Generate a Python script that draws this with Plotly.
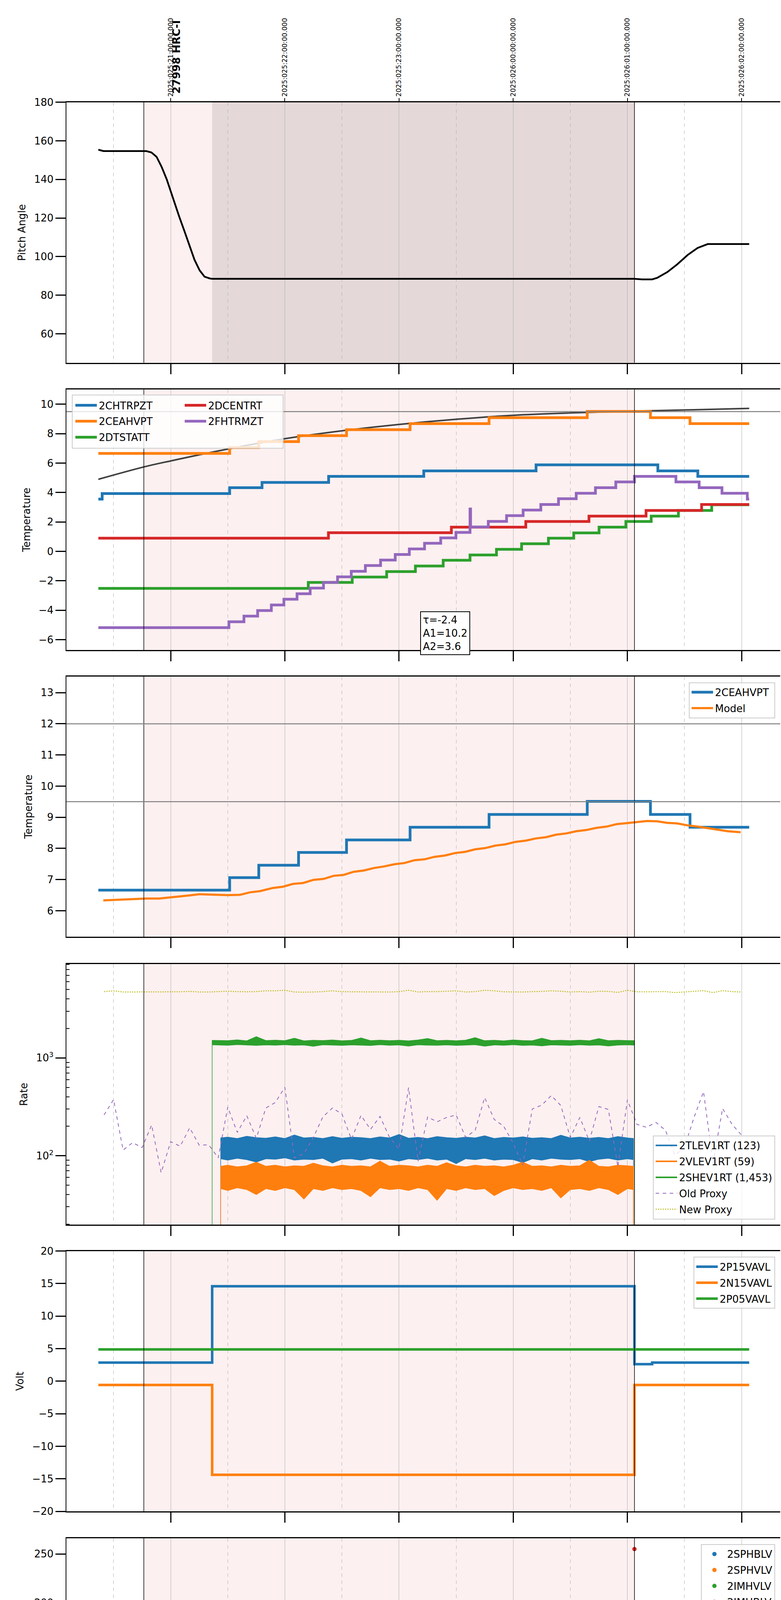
import numpy as np
import pandas as pd
import plotly.graph_objects as go

FONT = "DejaVu Sans"
T0 = pd.Timestamp("2025-01-25 15:00:00")

# all times are minutes after 15:00 local (2025-01-25)
OBS_START = 45.9
SLEW_END = 81.8
OBS_END = 303.7
X_RANGE = [5.2, 380.3]

HOURS = [60, 120, 180, 240, 300, 360]
HOUR_LABELS = ["16h", "17h", "18h", "19h", "20h", "21h"]
HALF_HOURS = [30, 90, 150, 210, 270, 330]
HALF_LABELS = ["30"] * 6
UTC_LABELS = ["2025:025:21:00:00.000", "2025:025:22:00:00.000", "2025:025:23:00:00.000",
              "2025:026:00:00:00.000", "2025:026:01:00:00.000", "2025:026:02:00:00.000"]

# ---------------- panel 1 : pitch ----------------
PITCH = [(22.0, 155.4), (24.7, 154.7), (47.2, 154.7), (49.9, 154.0), (52.6, 151.7), (55.2, 146.6),
         (57.9, 140.1), (60.0, 133.7), (61.9, 128.1), (64.5, 120.7), (67.2, 113.3), (69.8, 105.9),
         (72.5, 98.4), (75.2, 92.9), (77.8, 89.6), (80.5, 88.7), (81.8, 88.5), (303.7, 88.5),
         (307.7, 88.2), (313.0, 88.2), (315.7, 89.0), (321.0, 92.0), (326.3, 96.1), (331.6, 100.8),
         (336.9, 104.5), (342.2, 106.5), (364.0, 106.5)]

# ---------------- panel 2 : temperatures (step data) ----------------
T_END = 364.0
CHTRPZT = [(22, 3.55), (24, 3.93), (91, 4.33), (108, 4.69), (143, 5.10), (193, 5.47), (252, 5.88),
           (316, 5.47), (337, 5.10)]
CEAHVPT = [(22, 6.66), (91, 7.06), (106.3, 7.46), (127.2, 7.87), (152.4, 8.27), (185.8, 8.68),
           (227.3, 9.09), (278.9, 9.51), (312.1, 9.09), (332.9, 8.68)]
DTSTATT = [(22, -2.51), (132.3, -2.11), (155.4, -1.74), (173.5, -1.37), (188.6, -0.99), (203.2, -0.60),
           (217.3, -0.24), (231.2, 0.14), (244.4, 0.52), (258.5, 0.90), (271.8, 1.26), (285.1, 1.65),
           (299.2, 2.03), (312.5, 2.40), (326.8, 2.78), (344.3, 3.17)]
DCENTRT = [(22, 0.90), (142.9, 1.27), (207.5, 1.65), (246.6, 2.03), (279.8, 2.40), (309.8, 2.78),
           (339.0, 3.19)]
FHTRMZT = [(22, -5.18), (90.6, -4.78), (98.5, -4.40), (105.7, -4.02), (112.9, -3.64), (119.5, -3.25),
           (126.4, -2.88), (133.3, -2.49), (140.3, -2.11), (147.7, -1.73), (154.9, -1.35),
           (162.3, -0.96), (170.3, -0.59), (178.0, -0.21), (185.4, 0.17), (193.4, 0.55),
           (201.9, 0.92), (209.9, 1.29), (217.3, 2.88), (217.6, 1.66), (226.9, 2.04), (236.5, 2.43),
           (245.2, 2.81), (254.5, 3.19), (263.8, 3.58), (273.1, 3.95), (283.2, 4.33), (293.9, 4.72),
           (303.7, 5.10), (325.5, 4.72), (337.7, 4.33), (349.7, 3.95), (363.0, 3.55)]
FIT_CURVE = [(22, 4.90), (45.9, 5.74), (60, 6.15), (90.1, 6.96), (120.1, 7.66), (150.2, 8.20),
             (180.2, 8.63), (210.2, 8.98), (240, 9.25), (270, 9.41), (300, 9.52), (330, 9.61),
             (364, 9.72)]
FIT_TEXT = "τ=-2.4<br>A1=10.2<br>A2=3.6"

# ---------------- panel 3 : 2CEAHVPT vs model ----------------
MODEL = [(24.6, 6.33), (36.6, 6.37), (47.2, 6.39), (53.9, 6.39), (60.5, 6.43), (65.9, 6.45),
         (69.9, 6.49), (75.2, 6.53), (81.8, 6.52), (89.8, 6.50), (96.4, 6.51), (101.7, 6.59),
         (107.0, 6.63), (113.7, 6.73), (119.0, 6.77), (124.3, 6.86), (129.6, 6.89), (135.0, 6.99),
         (140.3, 7.02), (145.6, 7.12), (150.9, 7.15), (156.2, 7.25), (161.5, 7.29), (166.8, 7.37),
         (172.1, 7.42), (177.5, 7.49), (182.8, 7.53), (188.1, 7.62), (193.4, 7.65), (198.7, 7.73),
         (204.0, 7.77), (209.4, 7.85), (214.7, 7.89), (220.0, 7.97), (225.3, 8.01), (230.6, 8.09),
         (235.9, 8.13), (241.2, 8.21), (246.6, 8.25), (251.9, 8.32), (257.2, 8.36), (262.5, 8.44),
         (267.8, 8.48), (273.1, 8.55), (278.4, 8.59), (283.8, 8.66), (289.1, 8.70), (294.4, 8.78),
         (299.7, 8.81), (305.0, 8.85), (310.3, 8.88), (315.6, 8.87), (320.9, 8.82), (326.3, 8.80),
         (331.6, 8.74), (336.9, 8.70), (342.2, 8.65), (347.5, 8.61), (352.8, 8.55), (359.5, 8.52)]
LIMITS_P3 = [12.0, 9.5]
LIMIT_P2 = 9.5

# ---------------- panel 4 : rates ----------------
BAND_T = [86.3] + list(range(90, 301, 5)) + [303.2]
GREEN_T = [81.8] + list(range(90, 301, 5)) + [303.7]
TLEV_UP = [152, 155, 150, 158, 153, 151, 156, 150, 163, 152, 154, 150, 157, 151, 155, 153, 150, 156,
           152, 165, 151, 154, 150, 157, 153, 151, 155, 152, 160, 150, 154, 152, 156, 151, 153, 150,
           162, 152, 155, 151, 154, 150, 157, 152, 150]
TLEV_LO = [93, 90, 94, 91, 86, 93, 92, 95, 90, 92, 91, 94, 84, 92, 93, 90, 94, 91, 92, 88, 93, 91, 94,
           90, 92, 83, 93, 91, 94, 90, 92, 91, 85, 93, 90, 94, 92, 91, 93, 87, 92, 94, 90, 93, 91]
VLEV_UP = [78, 80, 77, 79, 86, 78, 80, 77, 79, 78, 84, 79, 77, 80, 78, 79, 77, 88, 78, 80, 79, 77, 80,
           78, 85, 79, 77, 80, 78, 79, 77, 80, 86, 78, 79, 77, 80, 78, 79, 90, 78, 77, 80, 79, 78]
VLEV_LO = [46, 44, 47, 45, 40, 46, 44, 47, 45, 36, 46, 44, 47, 45, 46, 44, 38, 47, 45, 46, 44, 47, 45,
           35, 46, 44, 47, 45, 46, 39, 44, 47, 45, 46, 44, 47, 37, 45, 46, 44, 47, 45, 40, 46, 45]
SHEV_UP = [1510, 1500, 1530, 1495, 1650, 1505, 1520, 1500, 1590, 1495, 1515, 1505, 1525, 1498, 1510,
           1600, 1502, 1520, 1500, 1515, 1495, 1525, 1580, 1500, 1515, 1497, 1520, 1610, 1500, 1515,
           1495, 1525, 1505, 1498, 1590, 1505, 1515, 1500, 1520, 1498, 1575, 1500, 1515, 1505, 1500]
SHEV_LO = [1360, 1345, 1365, 1350, 1340, 1358, 1347, 1363, 1345, 1355, 1315, 1360, 1348, 1342, 1358,
           1350, 1338, 1362, 1345, 1355, 1320, 1360, 1348, 1343, 1358, 1340, 1352, 1362, 1318, 1355,
           1345, 1363, 1342, 1350, 1325, 1358, 1348, 1340, 1360, 1345, 1355, 1322, 1350, 1360, 1348]
RATE_FLOOR = 10
PROXY_T = list(range(25, 361, 5))
OLD_PROXY = [261, 375, 114, 136, 121, 206, 67, 139, 125, 193, 128, 129, 95, 314, 173, 256, 151, 307,
             350, 501, 95, 105, 154, 250, 307, 267, 147, 258, 186, 252, 154, 117, 497, 88, 249, 222,
             246, 261, 154, 182, 393, 235, 200, 134, 80, 300, 329, 412, 326, 154, 246, 141, 318, 297,
             77, 372, 209, 195, 219, 182, 101, 122, 246, 452, 84, 304, 209, 162]
NEW_PROXY = [4760, 4850, 4718, 4718, 4718, 4740, 4740, 4718, 4740, 4784, 4718, 4718, 4760, 4806, 4760,
             4740, 4760, 4850, 4850, 4917, 4718, 4696, 4718, 4760, 4850, 4760, 4740, 4740, 4740, 4740,
             4718, 4760, 4917, 4718, 4760, 4760, 4806, 4850, 4718, 4760, 4917, 4850, 4740, 4718, 4718,
             4760, 4784, 4850, 4806, 4718, 4760, 4696, 4806, 4784, 4674, 4917, 4740, 4740, 4740, 4760,
             4652, 4718, 4784, 4870, 4652, 4870, 4760, 4718]

# ---------------- panel 5 : voltages ----------------
P15VAVL = [(22, 2.85), (81.8, 14.58), (303.7, 2.62), (313.0, 2.85)]
N15VAVL = [(22, -0.58), (81.8, -14.38), (303.7, -0.58)]
P05VAVL = [(22, 4.88)]

# ---------------- panel 6 : HV monitor ----------------
HV_EARLY_T = [81.9, 82.3, 82.7, 83.1, 83.5, 83.9, 84.3, 84.8, 85.3, 85.8]
IMHBLV_EARLY = [127, 126, 119, 106, 104, 100, 96, 92, 89, 87]
IMHVLV_EARLY = [100, 97, 94, 91, 88, 86, 84, 82, 80, 79]
HV_ON = (86.0, 303.0)          # span of the steady HV samples
HV_CADENCE = 1.0               # minutes between samples
IMHVLV_LEVEL = 78.8
IMHBLV_LEVEL = 85.6
HV_GLITCH_T = [106.0, 138.1, 140.3, 144.8, 145.6, 148.8]
IMHVLV_GLITCH = [127, 127, 127, 127, 127, 127]
IMHBLV_GLITCH = [79, 79, 79, 79, 79, 79]
IMHBLV_LAST = (303.7, 255)

# ---------------- panel 7 : detector temps ----------------
D_END = 302.9
SPINATM = [(81.8, 2.18), (82.3, 2.67),
           (103.1, -3), (104.0, 2.67), (104.9, -3), (105.8, 2.67), (106.7, -3), (107.6, 2.67),
           (108.5, -3), (109.4, 2.67), (110.3, -3), (111.2, 2.67), (112.1, -3), (113.0, 2.67),
           (132.8, -3), (133.6, 2.67), (136.3, 3.15),
           (137.1, -3), (138.0, 3.15), (138.9, -3), (139.8, 3.15), (140.3, -3), (140.8, 3.15),
           (142.4, -3), (143.3, 3.15), (144.2, -3), (145.1, 3.15), (145.7, -3), (146.4, 3.15),
           (147.7, -3), (149.1, 3.15), (152.2, -3), (153.6, 3.15), (234.6, 3.64)]
SPHVATM = [(81.8, 14.62), (89.6, 15.04), (90.2, 14.62), (97.6, 15.04), (98.2, 14.62), (100.4, 15.0),
           (103.1, 8.6), (104.0, 15.0), (104.4, 8.3), (105.4, 15.0), (106.2, 8.6), (107.2, 15.0),
           (108.0, 8.6), (109.0, 15.0), (109.8, 8.6), (110.8, 15.0), (111.6, 8.6), (112.6, 15.0),
           (113.0, 8.6), (113.2, 15.0),
           (132.3, 15.36), (132.8, 8.92), (133.6, 15.36),
           (137.1, 9.27), (138.0, 15.36), (138.9, 9.27), (139.8, 15.36), (140.3, 9.27), (140.8, 15.36),
           (142.4, 9.27), (143.3, 15.36), (144.2, 9.27), (145.1, 15.36), (145.7, 9.27), (146.4, 15.36),
           (147.7, 9.27), (149.1, 15.36), (152.2, 9.27), (153.6, 15.36),
           (158.9, 15.67), (186.0, 16.01), (217.8, 16.33), (251.9, 16.78), (252.5, 16.33),
           (255.9, 16.71), (301.8, 17.12)]
IMINATM = [(81.8, 0.82),
           (103.1, 2.74), (104.0, 0.82), (104.9, 2.74), (105.8, 0.82), (106.7, 2.74), (107.6, 0.82),
           (108.5, 2.74), (109.4, 0.82), (110.3, 2.74), (111.2, 0.82), (112.1, 2.74), (113.0, 0.82),
           (132.8, 2.9), (133.6, 0.82),
           (137.1, 3.27), (138.0, 0.82), (138.9, 3.27), (139.8, 0.82), (140.3, 3.27), (140.8, 0.82),
           (142.4, 3.27), (143.3, 0.82), (144.2, 3.27), (145.1, 0.82), (145.7, 3.27), (146.4, 0.82),
           (147.7, 3.27), (149.1, 0.82), (152.2, 3.27), (153.6, 0.82),
           (154.9, 1.28), (210.7, 1.74), (255.1, 2.21), (296.5, 2.67)]
IMHVATM = [(81.3, -3), (81.4, 13.95), (87.9, 14.30), (95.1, 14.65), (101.7, 14.97), (108.4, 15.35),
           (115.8, 15.67), (124.8, 16.01), (133.6, 16.36),
           (134.4, 15.36), (135.0, 16.36), (137.1, 15.36), (137.8, 16.36), (140.3, 15.36),
           (140.9, 16.36), (144.8, 15.36), (145.4, 16.36), (145.6, 16.71), (148.8, 15.5),
           (149.4, 16.71), (152.2, 15.5), (152.8, 16.71),
           (159.4, 17.06), (177.5, 17.40), (198.2, 17.82), (198.7, 17.75), (224.0, 18.17),
           (224.4, 17.75), (227.5, 18.13), (259.8, 18.47), (301.4, 18.86), (301.8, 18.47),
           (303.7, 25), (303.9, -3)]

# ---------------- panel 8 : FEA temps ----------------
FRADPYT = [(22, -5.6), (103.1, -4.8), (113.7, -4.42), (119.5, -4.07), (125.5, -3.65), (133.6, -3.23),
           (142.4, -2.9), (145.6, -2.5), (154.9, -2.13), (162.8, -1.74), (170.8, -1.36), (179.4, -0.98),
           (187.6, -0.62), (196.6, -0.23), (204.8, 0.14), (214.1, 0.51), (223.4, 0.90), (233.3, 1.28),
           (242.6, 1.65), (252.4, 2.03), (262.5, 2.42), (273.1, 2.79), (283.8, 3.17), (294.4, 3.55),
           (306.3, 3.92), (310.3, 3.55), (317.5, 3.17), (321.5, 2.79), (325.5, 2.42), (329.5, 2.03),
           (334.2, 1.65), (341.4, 1.28), (351.5, 0.90), (363.0, 0.53)]
FEPRATM = [(22, -7.0), (87.1, -4.75), (90.1, -4.35), (92.8, -3.92), (97.0, -3.54), (102.0, -3.09),
           (108.4, -2.67), (113.7, -2.25), (119.5, -1.81), (126.2, -1.38), (132.8, -0.95),
           (137.1, -7), (138.0, -0.95), (138.9, -7), (139.8, -0.95), (140.3, -0.51),
           (142.4, -7), (143.3, -0.51), (144.2, -7), (145.1, -0.51), (146.4, -7), (146.9, -0.07),
           (147.7, -7), (149.1, -0.07), (152.2, -7), (153.6, -0.07),
           (154.9, 0.36), (163.4, 0.80), (172.1, 1.25), (180.2, 1.73), (189.7, 2.19), (199.3, 2.67),
           (208.8, 3.17), (219.2, 3.65), (229.8, 4.13), (240.5, 4.65), (251.9, 5.16), (262.5, 5.67),
           (275.0, 6.6), (290.0, 7.1), (302.9, 5.6)]
FE00ATM = [(22, -7),
           (103.1, 20), (104.0, -20), (104.9, 20), (105.8, -20), (106.7, 20), (107.6, -20),
           (108.5, 20), (109.4, -20), (110.3, 20), (111.2, -20), (112.1, 20), (113.0, -20),
           (113.2, -3.96), (117.7, -3.63), (123.5, -3.29), (129.1, -2.92),
           (132.8, 20), (133.6, -20), (134.4, -2.59),
           (135.5, 20), (136.4, -20), (137.3, 20), (138.2, -20), (139.1, 20), (140.0, -20),
           (140.8, -2.25),
           (142.4, 20), (143.3, -20), (144.2, 20), (145.1, -20), (146.0, 20), (146.9, -20),
           (147.8, 20), (148.7, -20), (149.6, -1.96), (150.9, -1.63),
           (151.4, 20), (152.3, -20), (153.2, 20), (153.6, -1.63),
           (156.2, -1.30), (160.2, -0.94), (168.2, -0.62), (174.8, -0.28), (180.2, 0.03),
           (182.8, 0.74), (183.2, 0.03), (186.8, 0.36), (192.9, 0.70), (194.7, -0.34), (195.1, 0.70),
           (196.6, 1.07), (197.0, 0.70), (199.3, 1.03), (200.9, 1.39), (201.3, 1.03), (205.9, 1.34),
           (212.6, 1.67), (219.2, 1.98), (225.8, 2.32), (233.3, 2.63), (239.9, 2.96), (241.2, 3.98),
           (241.6, 2.96), (246.6, 3.27), (253.7, 3.61), (261.7, 3.91), (269.7, 4.6), (270.1, 4.23),
           (277.1, 4.56), (283.8, 4.88), (291.7, 4.48), (292.3, 5.21), (301.0, 5.52),
           (303.5, 20), (303.9, -20)]

BLUE, ORANGE, GREEN, RED, PURPLE, OLIVE = "#1f77b4", "#ff7f0e", "#2ca02c", "#d62728", "#9467bd", "#bcbd22"

W, H = 2000, 6200
SLOT_TOPS = [248, 987, 1725, 2465, 3203, 3942, 4681, 5420]
ORDER = [1, 2, 3, 4, 5, 6, 7, 8]
TOP = {p: SLOT_TOPS[s] for s, p in enumerate(ORDER)}
PH = 670
XDOM = [170 / W, 1998 / W]


def T(mins):
    return [T0 + pd.Timedelta(minutes=float(m)) for m in mins]


def steps(pairs, t_end):
    t = [p[0] for p in pairs] + [t_end]
    v = [p[1] for p in pairs] + [pairs[-1][1]]
    return T(t), v


def xn(i):
    return "x" if i == 1 else f"x{i}"


def yn(i):
    return "y" if i == 1 else f"y{i}"


def py(panel, off):
    # paper y for a pixel offset below the top of a panel
    return 1 - (TOP[panel] + off) / H


fig = go.Figure()


def add_line(i, x, y, name, color, width, legend=None, shape="linear", dash=None):
    kw = dict(legend=legend) if legend else {}
    fig.add_trace(go.Scatter(x=x, y=y, mode="lines", name=name,
                             line=dict(color=color, width=width, shape=shape, dash=dash),
                             xaxis=xn(i), yaxis=yn(i), legendgroup=name,
                             showlegend=legend is not None, **kw))


def add_step(i, pairs, t_end, name, color, width, legend):
    x, y = steps(pairs, t_end)
    add_line(i, x, y, name, color, width, legend, shape="hv")


def add_band(i, t, up, lo, name, color, legend):
    x = T([t[0]] + list(t) + [t[-1]] + list(t[::-1]))
    y = [RATE_FLOOR] + list(up) + [RATE_FLOOR] + list(lo[::-1])
    fig.add_trace(go.Scatter(x=x, y=y, mode="lines", fill="toself", fillcolor=color,
                             line=dict(color=color, width=1.5), xaxis=xn(i), yaxis=yn(i),
                             showlegend=False, legendgroup=name, hoverinfo="skip"))
    fig.add_trace(go.Scatter(x=T([t[0]]), y=[None], mode="lines", name=name,
                             line=dict(color=color, width=4), xaxis=xn(i), yaxis=yn(i),
                             legend=legend, legendgroup=name))


# panel 1
add_line(1, T([p[0] for p in PITCH]), [p[1] for p in PITCH], "pitch", "black", 4.5)

# panel 2
add_line(2, T([p[0] for p in FIT_CURVE]), [p[1] for p in FIT_CURVE], "fit", "#404040", 4, shape="spline")
add_step(2, CHTRPZT, T_END, "2CHTRPZT", BLUE, 7, "legend")
add_step(2, CEAHVPT, T_END, "2CEAHVPT", ORANGE, 7, "legend")
add_step(2, DTSTATT, T_END, "2DTSTATT", GREEN, 7, "legend")
add_step(2, DCENTRT, T_END, "2DCENTRT", RED, 7, "legend2")
add_step(2, FHTRMZT, T_END, "2FHTRMZT", PURPLE, 7, "legend2")

# panel 3
add_step(3, CEAHVPT, T_END, "2CEAHVPT ", BLUE, 7, "legend3")
add_line(3, T([p[0] for p in MODEL]), [p[1] for p in MODEL], "Model", ORANGE, 5.5, "legend3")

# panel 4
add_band(4, BAND_T, TLEV_UP, TLEV_LO, "2TLEV1RT (123)", BLUE, "legend4")
add_band(4, BAND_T, VLEV_UP, VLEV_LO, "2VLEV1RT (59)", ORANGE, "legend4")
add_band(4, GREEN_T, SHEV_UP, SHEV_LO, "2SHEV1RT (1,453)", GREEN, "legend4")
add_line(4, T(PROXY_T), OLD_PROXY, "Old Proxy", PURPLE, 2, "legend4", dash="dash")
add_line(4, T(PROXY_T), NEW_PROXY, "New Proxy", OLIVE, 2.5, "legend4", dash="dot")

# panel 5
add_step(5, P15VAVL, T_END, "2P15VAVL", BLUE, 6.5, "legend5")
add_step(5, N15VAVL, T_END, "2N15VAVL", ORANGE, 6.5, "legend5")
add_step(5, P05VAVL, T_END, "2P05VAVL", GREEN, 6.5, "legend5")

# panel 6 (markers)
hv_t = list(np.arange(HV_ON[0], HV_ON[1] + 0.01, HV_CADENCE))
hv_green_t = HV_EARLY_T + hv_t + HV_GLITCH_T
hv_green_v = IMHVLV_EARLY + [IMHVLV_LEVEL] * len(hv_t) + IMHVLV_GLITCH
hv_red_t = HV_EARLY_T + hv_t + HV_GLITCH_T + [IMHBLV_LAST[0]]
hv_red_v = IMHBLV_EARLY + [IMHBLV_LEVEL] * len(hv_t) + IMHBLV_GLITCH + [IMHBLV_LAST[1]]
for name, color, tt, vv in [("2SPHBLV", BLUE, [HV_ON[0]], [None]),
                            ("2SPHVLV", ORANGE, [HV_ON[0]], [None]),
                            ("2IMHVLV", GREEN, hv_green_t, hv_green_v),
                            ("2IMHBLV", RED, hv_red_t, hv_red_v)]:
    fig.add_trace(go.Scatter(x=T(tt), y=vv, mode="markers", name=name,
                             marker=dict(color=color, size=11), xaxis="x6", yaxis="y6",
                             legend="legend6", legendgroup=name))

# panel 7
add_step(7, SPINATM, D_END, "2SPINATM", BLUE, 6.5, "legend7")
add_step(7, SPHVATM, D_END, "2SPHVATM", ORANGE, 6.5, "legend7")
add_step(7, IMINATM, D_END, "2IMINATM", GREEN, 6.5, "legend7")
add_step(7, IMHVATM, 304.0, "2IMHVATM", RED, 6.5, "legend7")

# panel 8
add_step(8, FHTRMZT, T_END, "2FHTRMZT ", BLUE, 6.5, "legend8")
add_step(8, FRADPYT, T_END, "2FRADPYT", ORANGE, 6.5, "legend8")
add_step(8, FEPRATM, 303.3, "2FEPRATM", GREEN, 6.5, "legend8")
add_step(8, FE00ATM, 304.0, "2FE00ATM", RED, 6.5, "legend8")

# helper traces for overlay label axes
fig.add_trace(go.Scatter(x=T([60]), y=[None], xaxis="x9", yaxis="y", showlegend=False))
fig.add_trace(go.Scatter(x=T([60]), y=[None], xaxis="x10", yaxis="y8", showlegend=False))

# ---------------- layout ----------------
xr = T(X_RANGE)
YAXES = [
    dict(title="Pitch Angle", range=[45, 180], dtick=20),
    dict(title="Temperature", range=[-6.7, 11.0], dtick=2),
    dict(title="Temperature", range=[5.16, 13.52], dtick=1),
    dict(title="Rate", range=[1.296, 3.959], type="log"),
    dict(title="Volt", range=[-20, 20], dtick=5),
    dict(title="HV Monitor", range=[0, 266], dtick=50),
    dict(title="Detector Temp", range=[-0.67, 19.61], dtick=2.5, tickformat=".1f"),
    dict(title="FEA Temp", range=[-4.77, 6.14], dtick=2),
]

layout = dict(width=W, height=H, margin=dict(l=0, r=0, t=0, b=0),
              plot_bgcolor="white", paper_bgcolor="white",
              font=dict(family=FONT, size=26, color="black"), hovermode=False)

for i in range(1, 9):
    k = "" if i == 1 else str(i)
    layout["xaxis" + k] = dict(
        domain=XDOM, anchor="y" + k, type="date", range=xr,
        tickmode="array", tickvals=T(HOURS), ticktext=HOUR_LABELS,
        showticklabels=(i == 8), ticks="outside", ticklen=26 if i < 8 else 20,
        tickwidth=2.5, tickcolor="black",
        showline=True, linecolor="black", linewidth=3, mirror=True,
        showgrid=True, gridcolor="#b0b0b0", gridwidth=1, zeroline=False,
        minor=dict(tickmode="array", tickvals=T(HALF_HOURS), showgrid=True,
                   gridcolor="#b0b0b0", gridwidth=1.2, griddash="dash", ticks=""),
    )
    ya = YAXES[i - 1]
    yd = dict(domain=[py(i, PH), py(i, 0)], anchor="x" + k,
              range=ya["range"], type=ya.get("type", "linear"),
              ticks="outside", ticklen=26, tickwidth=3, tickcolor="black",
              showline=True, linecolor="black", linewidth=1.5, mirror=False,
              showgrid=False, zeroline=False,
              tickfont=dict(size=26),
              title=dict(text=ya["title"], font=dict(size=26), standoff=14))
    if ya.get("type") == "log":
        yd.update(tickmode="array", tickvals=[100, 1000], ticktext=["10<sup>2</sup>", "10<sup>3</sup>"],
                  minor=dict(tickmode="array",
                             tickvals=[20, 30, 40, 50, 60, 70, 80, 90, 200, 300, 400, 500, 600, 700,
                                       800, 900, 2000, 3000, 4000, 5000, 6000, 7000, 8000, 9000],
                             ticks="inside", ticklen=8, tickwidth=1.5, tickcolor="black"))
    else:
        yd.update(tick0=0, dtick=ya["dtick"])
        if "tickformat" in ya:
            yd["tickformat"] = ya["tickformat"]
    layout["yaxis" + k] = yd

layout["xaxis8"].update(tickfont=dict(size=26), ticklabelstandoff=26,
                        title=dict(text="2025-01-25 (025)", font=dict(size=32), standoff=11))

layout["xaxis9"] = dict(overlaying="x", anchor="y", side="top", type="date", range=xr,
                        tickmode="array", tickvals=T(HOURS), ticktext=UTC_LABELS, tickangle=-90,
                        tickfont=dict(size=17), ticks="outside", ticklen=10, tickwidth=2,
                        tickcolor="black", showgrid=False, showline=False, zeroline=False)
layout["xaxis10"] = dict(overlaying="x8", anchor="y8", side="bottom", type="date", range=xr,
                         tickmode="array", tickvals=T(HALF_HOURS), ticktext=HALF_LABELS,
                         tickfont=dict(size=18), ticks="", showgrid=False, showline=False,
                         zeroline=False)


def leg(panel, off, x, xa, ya, frame=True):
    return dict(x=x / W, y=py(panel, off), xanchor=xa, yanchor=ya,
                bgcolor="rgba(255,255,255,0.8)" if frame else "rgba(0,0,0,0)",
                bordercolor="#cccccc", borderwidth=2 if frame else 0,
                font=dict(size=26, family=FONT), itemwidth=55, tracegroupgap=4)


layout["legend"] = leg(2, 17, 188, "left", "top", frame=False)
layout["legend2"] = leg(2, 17, 468, "left", "top", frame=False)
layout["legend3"] = leg(3, 15, 1985, "right", "top")
layout["legend4"] = leg(4, 657, 1985, "right", "bottom")
layout["legend5"] = leg(5, 15, 1985, "right", "top")
layout["legend6"] = leg(6, 15, 1985, "right", "top")
layout["legend7"] = leg(7, 13, 1985, "right", "top")
layout["legend8"] = leg(8, 658, 1985, "right", "bottom")

fig.update_layout(**layout)

# shaded observation windows and event markers
t_obs0, t_slew, t_obs1 = T([OBS_START, SLEW_END, OBS_END])
for i in range(1, 9):
    yref = yn(i) + " domain"
    fig.add_shape(type="rect", xref=xn(i), yref=yref, x0=t_obs0, x1=t_obs1, y0=0, y1=1,
                  fillcolor="#fdf0f0", line_width=0, layer="below")
    if i == 1:
        fig.add_shape(type="rect", xref="x", yref=yref, x0=t_slew, x1=t_obs1, y0=0, y1=1,
                      fillcolor="#e4d8d8", line_width=0, layer="below")
    for t in (t_obs0, t_obs1):
        fig.add_shape(type="line", xref=xn(i), yref=yref, x0=t, x1=t, y0=0, y1=1,
                      line=dict(color="black", width=1.5), layer="above")

fig.add_shape(type="line", xref="x2 domain", yref="y2", x0=0, x1=1, y0=LIMIT_P2, y1=LIMIT_P2,
              line=dict(color="#808080", width=2.5), layer="above")
for lim in LIMITS_P3:
    fig.add_shape(type="line", xref="x3 domain", yref="y3", x0=0, x1=1, y0=lim, y1=lim,
                  line=dict(color="#808080", width=2.5), layer="above")

# frame for the two-column legend of panel 2
fig.add_shape(type="rect", xref="paper", yref="paper", x0=185 / W, x1=725 / W,
              y0=py(2, 151), y1=py(2, 14), fillcolor="rgba(255,255,255,0.8)",
              line=dict(color="#cccccc", width=2), layer="above")

fig.add_annotation(text="<b>27998 HRC-I</b>", xref="paper", yref="paper", x=452 / W,
                   y=py(1, -20), xanchor="center", yanchor="bottom", textangle=-90,
                   showarrow=False, font=dict(size=27, family=FONT, color="black"))
fig.add_annotation(text=FIT_TEXT, xref="paper", yref="paper", x=1076 / W, y=py(2, 571),
                   xanchor="left", yanchor="top", align="left", showarrow=False,
                   bordercolor="black", borderwidth=2, borderpad=5, bgcolor="white",
                   font=dict(size=26, family=FONT, color="black"))

fig.write_html("out.html", config={"displayModeBar": False},
               post_script="document.body.style.margin='0px';")
